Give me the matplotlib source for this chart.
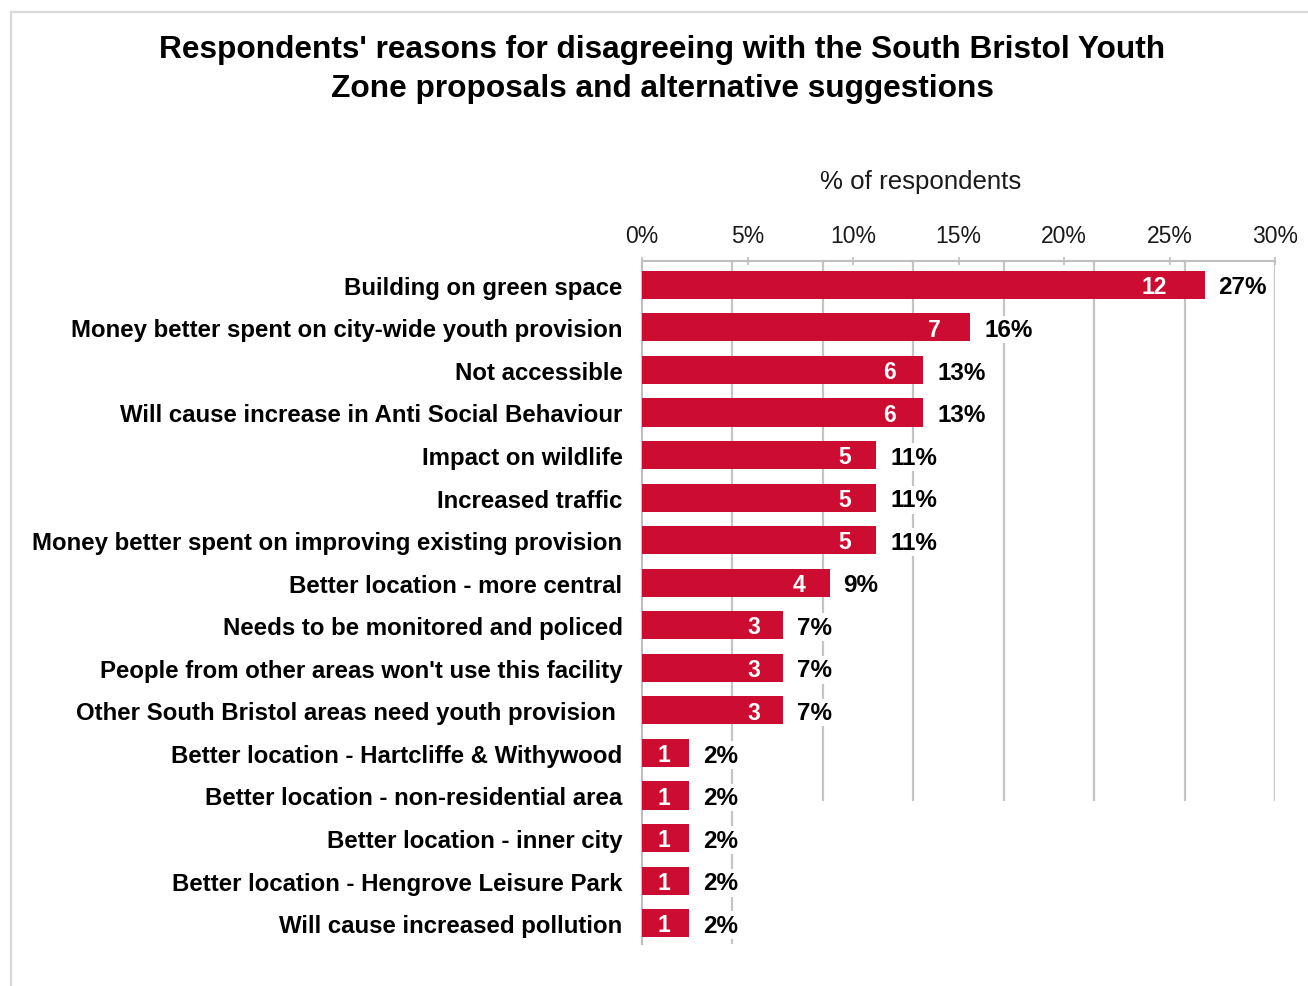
import matplotlib
matplotlib.use("Agg")
import matplotlib.pyplot as plt
from matplotlib.lines import Line2D

plt.rcParams['font.family'] = ['Liberation Sans', 'DejaVu Sans']

# Survey data
title = ("Respondents' reasons for disagreeing with the South Bristol Youth\n"
         "Zone proposals and alternative suggestions")
axis_label = "% of respondents"
categories = [
    "Building on green space",
    "Money better spent on city-wide youth provision",
    "Not accessible",
    "Will cause increase in Anti Social Behaviour",
    "Impact on wildlife",
    "Increased traffic",
    "Money better spent on improving existing provision",
    "Better location - more central",
    "Needs to be monitored and policed",
    "People from other areas won't use this facility",
    "Other South Bristol areas need youth provision ",
    "Better location - Hartcliffe & Withywood",
    "Better location - non-residential area",
    "Better location - inner city",
    "Better location - Hengrove Leisure Park",
    "Will cause increased pollution",
]
counts = [12, 7, 6, 6, 5, 5, 5, 4, 3, 3, 3, 1, 1, 1, 1, 1]
total_respondents = 45
pct_ticks = [0, 5, 10, 15, 20, 25, 30]
count_grid = [2, 4, 6, 8, 10, 12, 14]

percents = [c / total_respondents * 100 for c in counts]

BAR = "#CC0C30"
GRID = "#C4C4C4"

fig = plt.figure(figsize=(13.08, 9.87), dpi=100)
fig.patch.set_facecolor("white")

# thin frame around the chart area
fig.add_artist(Line2D([11/1308, 11/1308], [0, 1 - 13/987], transform=fig.transFigure,
                      color="#D9D9D9", lw=1.6))
fig.add_artist(Line2D([11/1308, 1], [1 - 13/987, 1 - 13/987], transform=fig.transFigure,
                      color="#D9D9D9", lw=1.6))

left, right = 642/1308, 1275/1308
top, bottom = 1 - 262/987, 1 - 945/987
ax = fig.add_axes([left, bottom, right - left, top - bottom])
ax2 = ax.twiny()

ypos = list(range(len(categories)))
n = len(categories)

# percentage axis (bars)
ax.barh(ypos, percents, height=0.66, color=BAR, zorder=3)
ax.set_xlim(0, 30)
ax.set_ylim(n - 1 + 0.49, -0.56)
ax.set_yticks(ypos)
ax.set_yticklabels(categories, fontsize=17.3, fontweight="bold")
ax.tick_params(axis="y", length=0, pad=14)
ax.xaxis.tick_top()
ax.set_xticks(pct_ticks)
ax.set_xticklabels([f"{t}%" for t in pct_ticks], fontsize=16.5, color="#1a1a1a")
ax.tick_params(axis="x", direction="inout", length=6, width=1.2, color="#BFBFBF", pad=7)
for s in ["right", "bottom"]:
    ax.spines[s].set_visible(False)
for s in ["top", "left"]:
    ax.spines[s].set_color("#BFBFBF")
    ax.spines[s].set_linewidth(1.5)
ax.set_zorder(2)
ax.patch.set_visible(False)

# count axis (gridlines and count labels)
ax2.set_xlim(0, 14)
ax2.set_zorder(1)
ax2.set_xticks([])
for s in ax2.spines.values():
    s.set_visible(False)
for g in count_grid:
    y_end = n - 1 + 0.49 if g == count_grid[0] else 12.13
    ax2.vlines(g, -0.56, y_end, color=GRID, lw=1.6)

for i, (c, p) in enumerate(zip(counts, percents)):
    ax.annotate(str(c), xy=(c, i), xycoords=ax2.transData, xytext=(-12.5, -1.2),
                textcoords="offset points", ha="right", va="center",
                color="white", fontsize=16.5, fontweight="bold", zorder=5)
    ax.annotate(f"{p:.0f}%", xy=(p, i), xycoords="data", xytext=(10, -1.5),
                textcoords="offset points", ha="left", va="center",
                color="black", fontsize=17.5, fontweight="bold", zorder=5,
                bbox=dict(boxstyle="square,pad=0.1", fc="white", ec="none"))

fig.text(662/1308, 1 - 69.5/987, title, ha="center", va="center",
         fontsize=22.8, fontweight="bold", linespacing=1.36)
fig.text(921/1308, 1 - 182/987, axis_label, ha="center", va="center",
         fontsize=18.6, color="#1a1a1a")

fig.savefig("out.png", dpi=100, facecolor="white")
